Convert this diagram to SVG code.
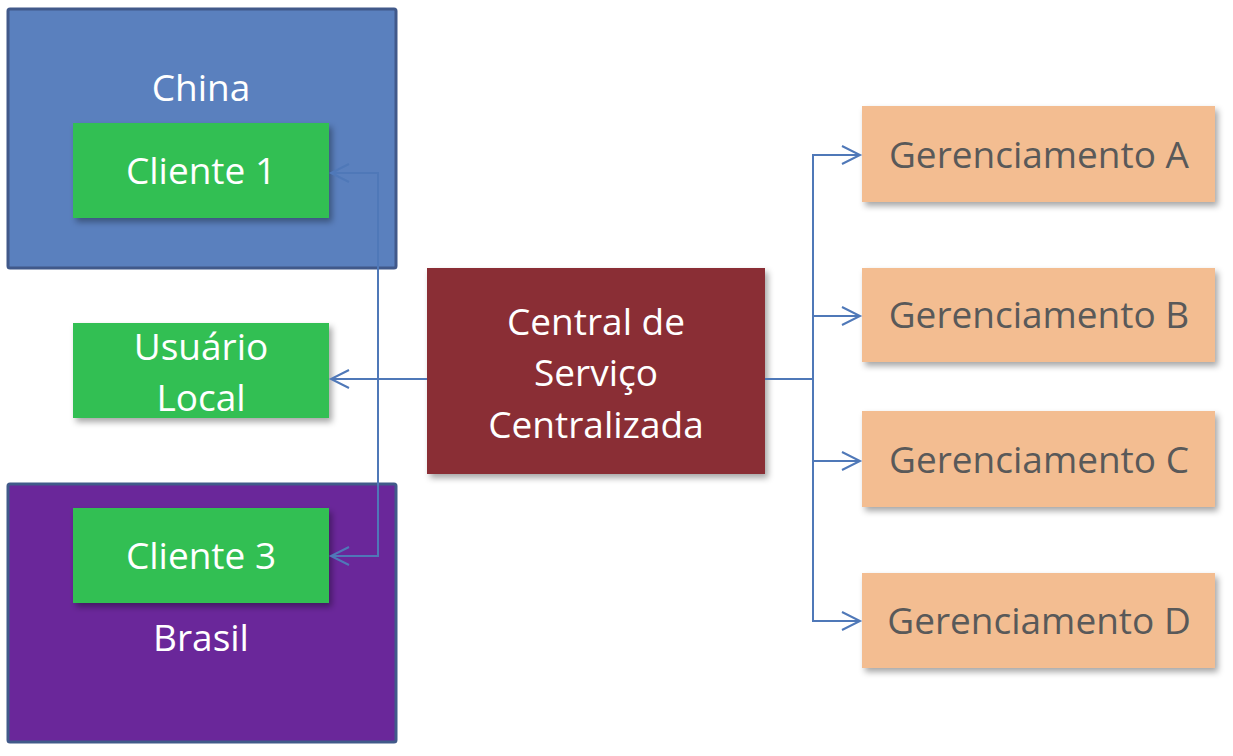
<svg xmlns="http://www.w3.org/2000/svg" width="1233" height="756" viewBox="0 0 1233 756">
<style>
.t{font-family:"Open Sans","Liberation Sans",sans-serif;font-size:37px;text-anchor:middle;dominant-baseline:central}
.w{fill:#ffffff}
.g{fill:#595959}
.green{fill:#33bf52}
.mgmt{fill:#f3bd91}
.c{fill:none;stroke:#4f78b8;stroke-width:2}
</style>
<defs>
<filter id="sh" x="-10%" y="-10%" width="130%" height="130%">
<feDropShadow dx="3" dy="4" stdDeviation="3" flood-color="#000" flood-opacity="0.35"/>
</filter>
<marker id="ah" markerWidth="24" markerHeight="24" refX="21" refY="12" orient="auto" markerUnits="userSpaceOnUse">
<path d="M3,3 L21,12 L3,21" fill="none" stroke="#4f78b8" stroke-width="2"/>
</marker>
</defs>
<rect width="1233" height="756" fill="#ffffff"/>
<g id="china">
<rect x="8" y="9" width="388" height="259" rx="2" fill="#5a80be" stroke="#41598a" stroke-width="3"/>
<text class="t w" x="201" y="86">China</text>
</g>
<g id="brasil">
<rect x="8" y="484" width="388" height="258" rx="2" fill="#6a279a" stroke="#415a8a" stroke-width="3"/>
<text class="t w" x="201" y="636">Brasil</text>
</g>
<g id="cliente1">
<rect x="73" y="123" width="256" height="95" class="green" filter="url(#sh)"/>
<text class="t w" x="201" y="169">Cliente 1</text>
</g>
<g id="usuario">
<rect x="73" y="323" width="256" height="95" class="green" filter="url(#sh)"/>
<text class="t w" x="201" y="345">Usuário</text>
<text class="t w" x="201" y="396">Local</text>
</g>
<g id="cliente3">
<rect x="73" y="508" width="256" height="95" class="green" filter="url(#sh)"/>
<text class="t w" x="201" y="554">Cliente 3</text>
</g>
<g id="central">
<rect x="427" y="268" width="338" height="206" fill="#8a2d36" filter="url(#sh)"/>
<text class="t w" x="596" y="320">Central de</text>
<text class="t w" x="596" y="371">Serviço</text>
<text class="t w" x="596" y="423">Centralizada</text>
</g>
<g id="gerA">
<rect x="862" y="106" width="353" height="96" class="mgmt" filter="url(#sh)"/>
<text class="t g" x="1039" y="153">Gerenciamento A</text>
</g>
<g id="gerB">
<rect x="862" y="268" width="353" height="94" class="mgmt" filter="url(#sh)"/>
<text class="t g" x="1039" y="313">Gerenciamento B</text>
</g>
<g id="gerC">
<rect x="862" y="411" width="353" height="96" class="mgmt" filter="url(#sh)"/>
<text class="t g" x="1039" y="458">Gerenciamento C</text>
</g>
<g id="gerD">
<rect x="862" y="573" width="353" height="95" class="mgmt" filter="url(#sh)"/>
<text class="t g" x="1039" y="619">Gerenciamento D</text>
</g>
<g id="connectors">
<path class="c" d="M427,379 L331,379" marker-end="url(#ah)"/>
<path class="c" d="M378,556 L378,173 L331,173" marker-end="url(#ah)"/>
<path class="c" d="M378,173 L378,556 L331,556" marker-end="url(#ah)"/>
<path class="c" d="M765,379 L813,379 L813,155 L860,155" marker-end="url(#ah)"/>
<path class="c" d="M813,379 L813,316 L860,316" marker-end="url(#ah)"/>
<path class="c" d="M813,379 L813,461 L860,461" marker-end="url(#ah)"/>
<path class="c" d="M813,379 L813,621 L860,621" marker-end="url(#ah)"/>
</g>
</svg>
